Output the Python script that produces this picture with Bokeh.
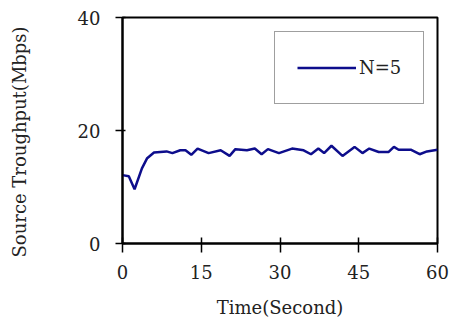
from bokeh.plotting import figure
from bokeh.models import ColumnDataSource, FixedTicker, Legend, LegendItem
from bokeh.embed import file_html
from bokeh.resources import INLINE

# Source throughput over time for N=5
time_s = [0, 1.2, 2.3, 3.7, 4.7, 6.0, 8.4, 9.5, 11.0, 12.0, 13.1, 14.3, 16.4,
          18.7, 20.4, 21.5, 23.7, 25.2, 26.5, 27.7, 29.8, 32.3, 34.5, 35.9,
          37.3, 38.4, 39.8, 41.9, 44.2, 45.7, 47.0, 48.8, 50.7, 51.7, 52.6,
          54.9, 56.6, 58.0, 60]
throughput = [12.1, 11.9, 9.6, 13.3, 15.1, 16.1, 16.3, 16.0, 16.5, 16.5, 15.7,
              16.8, 16.0, 16.5, 15.5, 16.7, 16.5, 16.8, 15.8, 16.7, 16.0, 16.8,
              16.5, 15.8, 16.8, 16.0, 17.3, 15.5, 17.1, 16.0, 16.8, 16.2, 16.2,
              17.1, 16.6, 16.6, 15.8, 16.3, 16.6]
x_ticks = [0, 15, 30, 45, 60]
y_ticks = [0, 20, 40]
series_label = "N=5"
x_title = "Time(Second)"
y_title = "Source Troughput(Mbps)"

FONT = "DejaVu Serif"
TEXT = "#222222"

p = figure(width=449, height=325, x_range=(0, 60), y_range=(0, 40),
           output_backend="svg", toolbar_location=None,
           min_border_left=122, min_border_right=12,
           min_border_top=17, min_border_bottom=82)

src = ColumnDataSource(dict(t=time_s, v=throughput))
r = p.line("t", "v", source=src, line_color="#0d0d8c", line_width=2.5)

p.grid.visible = False
p.outline_line_color = "black"
p.outline_line_width = 2
p.background_fill_color = "white"
p.border_fill_color = "white"

p.xaxis.ticker = FixedTicker(ticks=x_ticks)
p.yaxis.ticker = FixedTicker(ticks=y_ticks)

for ax in (p.xaxis[0], p.yaxis[0]):
    ax.axis_line_color = "black"
    ax.axis_line_width = 2
    ax.major_tick_line_color = "black"
    ax.major_tick_line_width = 1.5
    ax.minor_tick_line_color = None
    ax.major_label_text_font = FONT
    ax.major_label_text_font_size = "18px"
    ax.major_label_text_color = TEXT
    ax.axis_label_text_font = FONT
    ax.axis_label_text_font_size = "18px"
    ax.axis_label_text_font_style = "normal"
    ax.axis_label_text_color = TEXT

p.xaxis.axis_label = x_title
p.xaxis.major_tick_in = 6
p.xaxis.major_tick_out = 9
p.xaxis.major_label_standoff = 12
p.xaxis.axis_label_standoff = 15

# trailing no-break spaces push the rotated title a little lower along the axis
p.yaxis.axis_label = y_title + "\u00a0" * 4
p.yaxis.major_tick_in = 3
p.yaxis.major_tick_out = 7
p.yaxis.major_label_standoff = 15
p.yaxis.axis_label_standoff = 45

legend = Legend(items=[LegendItem(label=series_label, renderers=[r])],
                location=(152, 139), padding=22, margin=0, spacing=0,
                glyph_width=59, glyph_height=27, label_height=27,
                label_standoff=3,
                label_text_font=FONT, label_text_font_size="18px",
                label_text_color=TEXT,
                border_line_color="#404040", border_line_width=1,
                background_fill_color="white", background_fill_alpha=1)
p.add_layout(legend)

open("out.html", "w").write(file_html(p, INLINE))
